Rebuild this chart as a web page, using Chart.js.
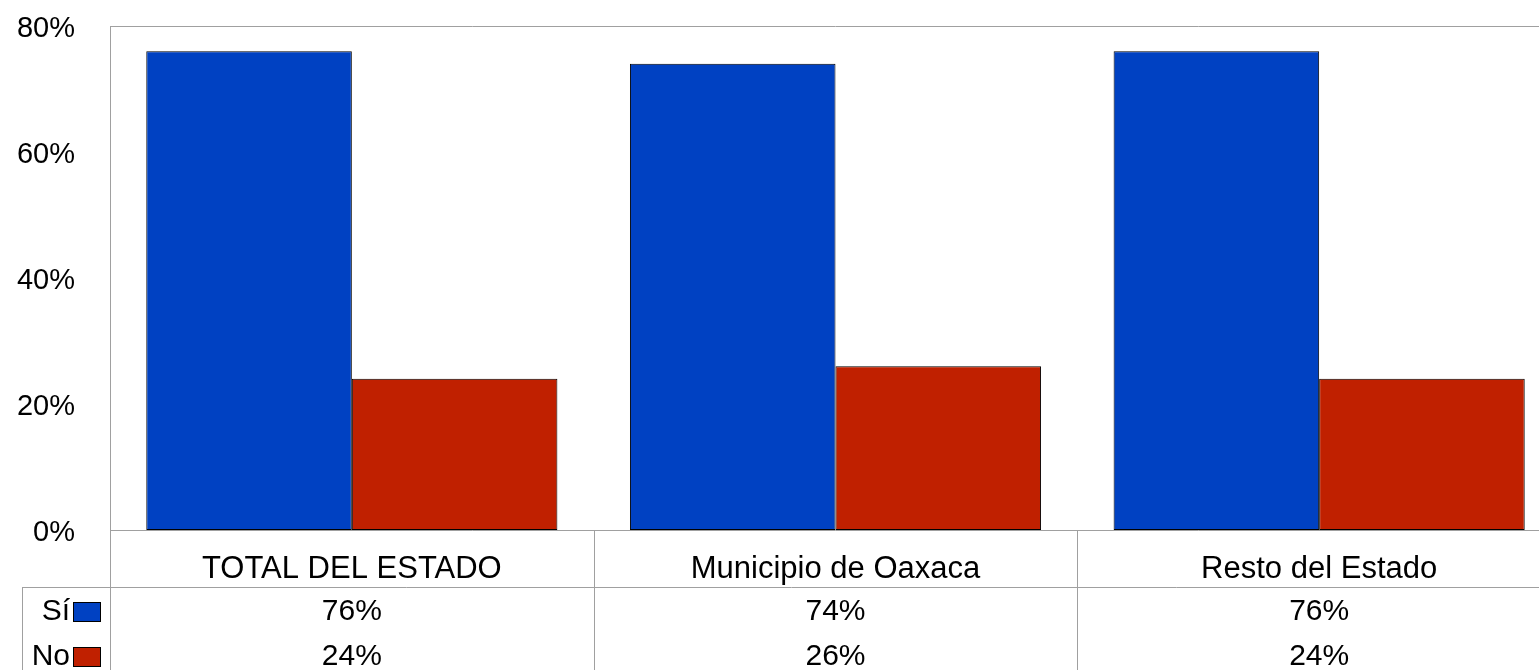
<!DOCTYPE html>
<html>
<head>
<meta charset="utf-8">
<script src="https://cdn.jsdelivr.net/npm/chart.js@4/dist/chart.umd.min.js"></script>
<style>
  html, body { margin: 0; padding: 0; background: #fff; overflow: hidden; }
  #wrap { width: 1539px; height: 670px; overflow: hidden; }
</style>
</head>
<body>
<div id="wrap"><canvas id="chart" width="1561" height="670"></canvas></div>
<script>
const categories = ["TOTAL DEL ESTADO", "Municipio de Oaxaca", "Resto del Estado"];
const seriesNames = ["Sí", "No"];
const siValues = [76, 74, 76];
const noValues = [24, 26, 24];
const yTicks = [0, 20, 40, 60, 80];

const BLUE = "#0041C2";
const RED = "#C02000";
const LINE = "#A0A0A0";
const FONT = "'Liberation Sans', Arial, sans-serif";
const FONT_SIZE = 29;
const TABLE_FONT_SIZE = 30;
const LABEL_FONT_SIZE = 31;

// data table under the plot (labels, legend keys and values)
const dataTable = {
  id: "dataTable",
  afterDraw: (chart) => {
    const { ctx, chartArea, scales } = chart;
    const x = scales.x;
    const n = categories.length;
    const colW = (chartArea.right - chartArea.left) / n;
    const labelRowBottom = chartArea.bottom + 57;
    const rowY = [labelRowBottom + 25, labelRowBottom + 70];
    const legendLeft = 22;

    ctx.save();
    ctx.strokeStyle = LINE;
    ctx.lineWidth = 1;
    ctx.beginPath();
    // plot frame: top, left, bottom
    ctx.moveTo(chartArea.left, chartArea.top + 0.5);
    ctx.lineTo(chartArea.right, chartArea.top + 0.5);
    ctx.moveTo(chartArea.left + 0.5, chartArea.top);
    ctx.lineTo(chartArea.left + 0.5, chart.height);
    ctx.moveTo(chartArea.left, chartArea.bottom + 0.5);
    ctx.lineTo(chartArea.right, chartArea.bottom + 0.5);
    // column dividers
    for (let i = 1; i <= n; i++) {
      const cx = Math.round(chartArea.left + colW * i) + 0.5;
      ctx.moveTo(cx, chartArea.bottom);
      ctx.lineTo(cx, chart.height);
    }
    // header row line and legend box edge
    ctx.moveTo(legendLeft, labelRowBottom + 0.5);
    ctx.lineTo(chartArea.right, labelRowBottom + 0.5);
    ctx.moveTo(legendLeft + 0.5, labelRowBottom);
    ctx.lineTo(legendLeft + 0.5, chart.height);
    ctx.stroke();

    ctx.fillStyle = "#000";
    ctx.textBaseline = "middle";
    ctx.textAlign = "center";
    categories.forEach((c, i) => {
      const cx = x.getPixelForValue(i);
      ctx.font = LABEL_FONT_SIZE + "px " + FONT;
      ctx.fillText(c, cx, chartArea.bottom + 39);
      ctx.font = TABLE_FONT_SIZE + "px " + FONT;
      ctx.fillText(siValues[i] + "%", cx, rowY[0]);
      ctx.fillText(noValues[i] + "%", cx, rowY[1]);
    });

    // legend keys
    const colors = [BLUE, RED];
    ctx.font = TABLE_FONT_SIZE + "px " + FONT;
    seriesNames.forEach((s, j) => {
      ctx.textAlign = "right";
      ctx.fillStyle = "#000";
      ctx.fillText(s, 70, rowY[j]);
      ctx.fillStyle = colors[j];
      ctx.fillRect(73, rowY[j] - 10, 27, 19);
      ctx.strokeStyle = "#000";
      ctx.strokeRect(73.5, rowY[j] - 9.5, 27, 19);
    });
    ctx.restore();
  },
};

new Chart(document.getElementById("chart"), {
  type: "bar",
  data: {
    labels: categories,
    datasets: [
      {
        label: seriesNames[0],
        data: siValues,
        backgroundColor: BLUE,
        borderColor: "#000",
        borderWidth: 1,
        borderSkipped: false,
        categoryPercentage: 0.85,
        barPercentage: 1.0,
      },
      {
        label: seriesNames[1],
        data: noValues,
        backgroundColor: RED,
        borderColor: "#000",
        borderWidth: 1,
        borderSkipped: false,
        categoryPercentage: 0.85,
        barPercentage: 1.0,
      },
    ],
  },
  plugins: [dataTable],
  options: {
    responsive: false,
    animation: false,
    layout: { padding: { top: 26, bottom: 140, right: 0, left: 0 } },
    plugins: {
      legend: { display: false },
      tooltip: { enabled: false },
    },
    scales: {
      x: { display: false },
      y: {
        min: 0,
        max: 80,
        afterFit: (scale) => { scale.width = 110; },
        afterBuildTicks: (scale) => {
          scale.ticks = yTicks.map((v) => ({ value: v }));
        },
        border: { display: false },
        // tick marks are not drawn, the length only pushes the labels left
        grid: { display: false, drawTicks: true, tickLength: 35 },
        ticks: {
          padding: 0,
          labelOffset: 3,
          color: "#000",
          font: { family: FONT, size: FONT_SIZE },
          callback: (v) => v + "%",
        },
      },
    },
  },
});
</script>
</body>
</html>
